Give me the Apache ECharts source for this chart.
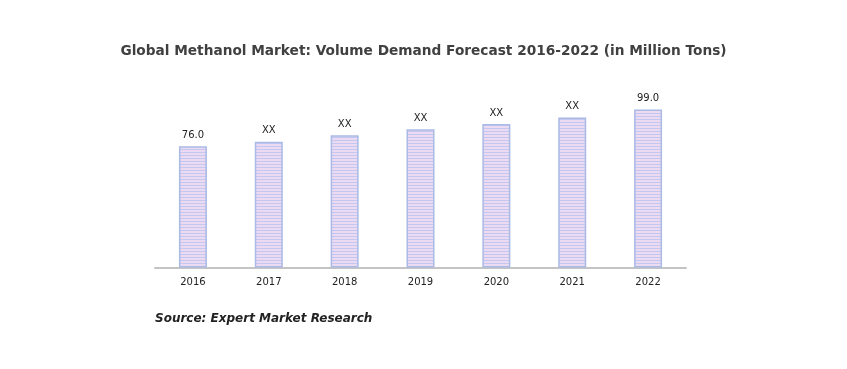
<!DOCTYPE html>
<html><head><meta charset="utf-8">
<script src="https://cdn.jsdelivr.net/npm/echarts@6/dist/echarts.min.js"></script>
<style>html,body{margin:0;padding:0;background:#fff}#c{width:847px;height:369px}</style>
</head><body><div id="c"></div>
<script>
const categories = ['2016','2017','2018','2019','2020','2021','2022'];
const values = [76.0, 78.9, 82.9, 86.7, 90.0, 94.0, 99.0];
const valueLabels = ['76.0','XX','XX','XX','XX','XX','99.0'];
const titleText = 'Global Methanol Market: Volume Demand Forecast 2016-2022 (in Million Tons)';
const sourceText = 'Source: Expert Market Research';

const pc = document.createElement('canvas');
pc.width = 4; pc.height = 3;
const g = pc.getContext('2d');
g.fillStyle = '#ebdaf1'; g.fillRect(0,0,4,3);
g.fillStyle = '#c4c7f0'; g.fillRect(0,2,4,1);

const chart = echarts.init(document.getElementById('c'), null, {renderer:'canvas'});
chart.setOption({
  backgroundColor:'#fff',
  animation:false,
  title:[{
    text:titleText, left:'center', top:39,
    textStyle:{fontFamily:'DejaVu Sans', fontWeight:'bold', fontSize:13.7, color:'#404040'}
  },{
    text:sourceText, left:150, top:308,
    textStyle:{fontFamily:'DejaVu Sans', fontWeight:'bold', fontStyle:'italic', fontSize:12, color:'#222'}
  }],
  grid:{left:155, right:161, top:108, bottom:101.5},
  xAxis:{type:'category', data:categories,
    axisLine:{lineStyle:{color:'#c4c4c4', width:2}},
    axisTick:{show:false},
    axisLabel:{fontFamily:'DejaVu Sans', fontSize:10, color:'#222', margin:10}},
  yAxis:{type:'value', min:0, max:100, show:false, splitLine:{show:false}},
  series:[{
    type:'bar', data:values, barWidth:28,
    itemStyle:{color:{image:pc, repetition:'repeat'}, borderColor:'#a9bae5', borderWidth:1.5},
    label:{show:true, position:'top', distance:6,
      formatter:p=>valueLabels[p.dataIndex],
      fontFamily:'DejaVu Sans', fontSize:10, color:'#222'}
  }]
});
</script></body></html>
